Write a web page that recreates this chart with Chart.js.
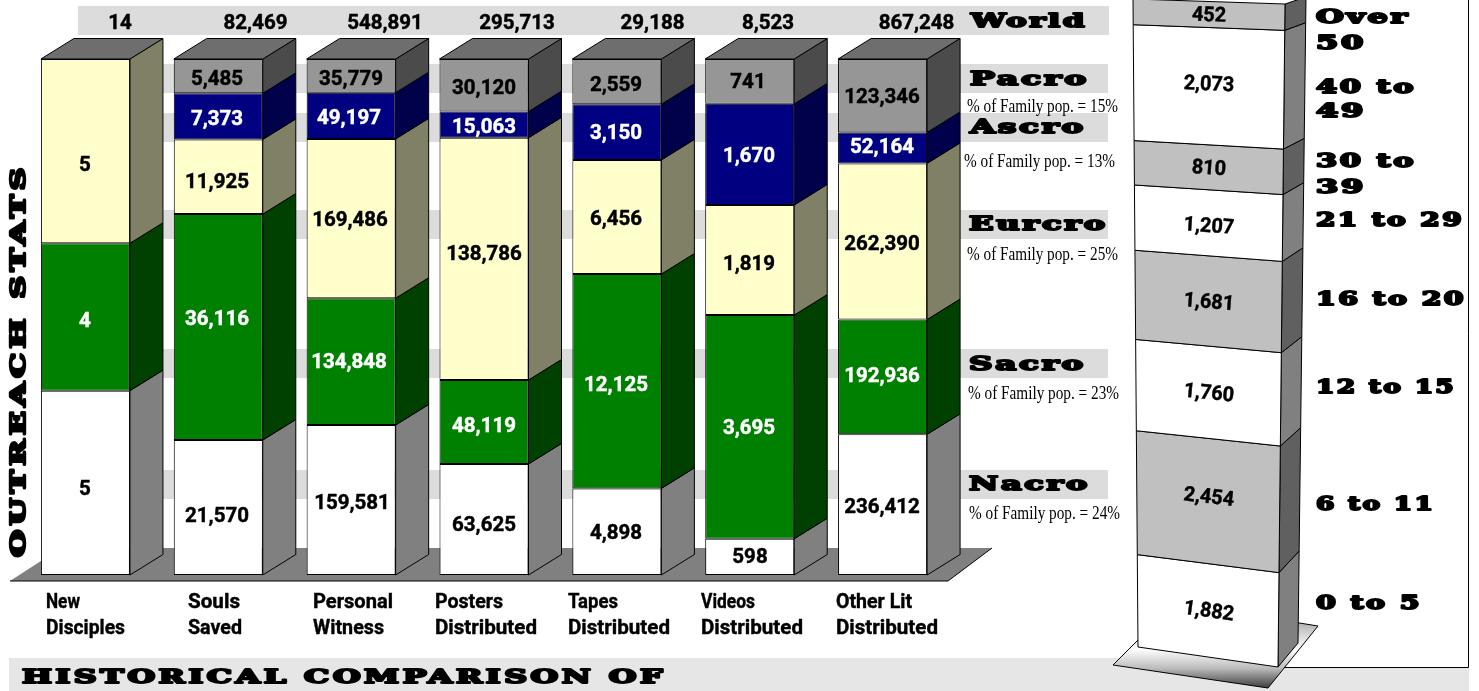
<!DOCTYPE html>
<html><head><meta charset="utf-8">
<script src="https://cdn.jsdelivr.net/npm/chart.js@4"></script>
<style>
html,body{margin:0;padding:0;background:#fff;overflow:hidden}
canvas{position:absolute;left:0;top:0}
</style></head><body>
<canvas id="main" width="1479" height="691"></canvas>
<canvas id="tower" width="1479" height="691"></canvas>
<script>
// ---------- data ----------
const categories = [["New","Disciples"],["Souls","Saved"],["Personal","Witness"],["Posters","Distributed"],["Tapes","Distributed"],["Videos","Distributed"],["Other Lit","Distributed"]];
const seriesNames = ["Nacro","Sacro","Eurcro","Ascro","Pacro"];
const nacro  = [5,21570,159581,63625,4898,598,236412];
const sacro  = [4,36116,134848,48119,12125,3695,192936];
const eurcro = [5,11925,169486,138786,6456,1819,262390];
const ascro  = [0,7373,49197,15063,3150,1670,52164];
const pacro  = [0,5485,35779,30120,2559,741,123346];
const worldTotals = [14,82469,548891,295713,29188,8523,867248];
const familyShare = ["15%","13%","25%","23%","24%"];
const ageGroups = ["0 to 5","6 to 11","12 to 15","16 to 20","21 to 29","30 to 39","40 to 49","Over 50"];
const ageValues = [1882,2454,1760,1681,1207,810,2073,452];

// ---------- style / layout ----------
const fmt = n => n.toLocaleString("en-US");
const seriesValues = [nacro,sacro,eurcro,ascro,pacro];
const frontColors = ["#ffffff","#008000","#ffffcc","#000080","#969696"];
const sideColors  = ["#808080","#004000","#808066","#00004b","#4b4b4b"];
const labelColors = ["#000","#fff","#000","#fff","#000"];
const numFont = 'bold 20.5px Roboto';
const slab = 'DejaVu Serif';
const TEXT_DY = 2;
const DEPTH_X = 33, DEPTH_Y = 20.5;
const worldLabelX = [120,255.5,385,517,652.5,768,916.5];
const catLabelX = [46,188,313,435,568,701,836];
const catLabelW = [[34,79],[52,54],[80,71],[68,102],[50,102],[54,102],[76,102]];
const barLabelPos = [ // per series, per column: label centre offsets
 [[85,488],[217,515],[352,502],[484,524],[616,532],[750,556],[882,506]],
 [[85,320],[217,318],[349,361],[484,425],[616,384],[749,427],[882,375]],
 [[85,164],[217,181],[350,219],[484,253],[616,218],[749,263],[882,243]],
 [null,[217,118],[349,117],[484,126],[616,132],[749,155],[882,146]],
 [null,[217,78],[351,78],[484,87],[616,84],[748,81],[882,96]]
];
const strips = [[6,29],[64,29],[113,29],[210,29],[349,29],[470,29]];
const headings = [["World",971,21,116],["Pacro",970,79,119],["Ascro",970,127,116],["Eurcro",969,224,139],["Sacro",969,364,117],["Nacro",969,484,121]];
const captionPos = [[967,105],[964,160],[967,253],[968,392],[969,512]];

function fitText(ctx,text,x,y,w,font,color,stroke,spacing){
  ctx.save();
  ctx.font=font; ctx.fillStyle=color||"#000"; ctx.textAlign="left"; ctx.textBaseline="middle";
  if(spacing) ctx.letterSpacing=spacing+"px";
  const m=ctx.measureText(text).width;
  ctx.translate(x,y+TEXT_DY); ctx.scale(w/m,1);
  ctx.fillText(text,0,0);
  if(stroke){ctx.strokeStyle=color||"#000";ctx.lineWidth=stroke;ctx.lineJoin="round";ctx.strokeText(text,0,0);}
  ctx.restore();
}
function centerText(ctx,text,x,y,font,color,sx){
  ctx.save();
  ctx.font=font; ctx.fillStyle=color||"#000"; ctx.textAlign="center"; ctx.textBaseline="middle";
  ctx.translate(x,y+TEXT_DY); ctx.scale(sx||1,1); ctx.fillText(text,0,0);
  ctx.strokeStyle=color||"#000"; ctx.lineWidth=.45; ctx.strokeText(text,0,0);
  ctx.restore();
}
function poly(ctx,pts,fill,stroke,lw){
  ctx.beginPath(); pts.forEach((p,i)=>i?ctx.lineTo(p[0],p[1]):ctx.moveTo(p[0],p[1])); ctx.closePath();
  if(fill){ctx.fillStyle=fill;ctx.fill();}
  if(stroke){ctx.strokeStyle=stroke;ctx.lineWidth=lw||1;ctx.stroke();}
}

const stage3d = {
  id:"stage3d",
  beforeDatasetsDraw(chart){
    const ctx=chart.ctx;
    ctx.save();
    // footer band + panel
    ctx.fillStyle="#e6e6e6"; ctx.fillRect(9,658,1460,33);
    ctx.fillStyle="#fff"; ctx.fillRect(1250,650,218,17);
    ctx.strokeStyle="#000"; ctx.lineWidth=1;
    ctx.beginPath(); ctx.moveTo(1468.5,0); ctx.lineTo(1468.5,667.5); ctx.lineTo(1250,667.5); ctx.stroke();
    // strips
    ctx.fillStyle="#dcdcdc";
    strips.forEach((s,i)=>ctx.fillRect(i?163:78,s[0],i?945:1031,s[1]));
    // floor
    poly(ctx,[[10,581],[61,548],[992,548],[948,581]],"#808080");
    ctx.beginPath(); ctx.moveTo(10,581); ctx.lineTo(948,581); ctx.lineTo(992,548); ctx.strokeStyle="#000"; ctx.stroke();
    // bar sides + tops
    seriesValues.forEach((vals,ds)=>{
      chart.getDatasetMeta(ds).data.forEach((el,i)=>{
        if(!vals[i]) return;
        const r=el.x+el.width/2;
        poly(ctx,[[r,el.y],[r+DEPTH_X,el.y-DEPTH_Y],[r+DEPTH_X,el.base-DEPTH_Y],[r,el.base]],sideColors[ds],"#000");
      });
    });
    chart.getDatasetMeta(0).data.forEach((el,i)=>{
      const ym=chart.scales.y.getPixelForValue(100), l=el.x-el.width/2, r=el.x+el.width/2;
      poly(ctx,[[l,ym],[l+DEPTH_X,ym-DEPTH_Y],[r+DEPTH_X,ym-DEPTH_Y],[r,ym]],"#6e6e6e","#000");
    });
    ctx.restore();
  },
  afterDatasetsDraw(chart){
    const ctx=chart.ctx;
    // value labels
    seriesValues.forEach((vals,ds)=>vals.forEach((v,i)=>{
      const p=barLabelPos[ds][i]; if(!p||!v) return;
      centerText(ctx,fmt(v),p[0],p[1],numFont,labelColors[ds]);
    }));
    worldTotals.forEach((v,i)=>centerText(ctx,fmt(v),worldLabelX[i],22,numFont,"#000"));
    // category labels
    categories.forEach((c,i)=>{
      fitText(ctx,c[0],catLabelX[i],601,catLabelW[i][0],'bold 20px Roboto',"#000",.4);
      fitText(ctx,c[1],catLabelX[i],627,catLabelW[i][1],'bold 20px Roboto',"#000",.4);
    });
    // headings and captions
    headings.forEach(h=>fitText(ctx,h[0],h[1],h[2]-1,h[3],'bold 18px "'+slab+'"',"#000",1.9,1.5));
    familyShare.forEach((s,i)=>fitText(ctx,"% of Family pop. = "+s,captionPos[i][0],captionPos[i][1],151,'19px "Liberation Serif"',"#000"));
    // rotated title
    ctx.save(); ctx.translate(17.5,557); ctx.rotate(-Math.PI/2);
    fitText(ctx,"OUTREACH STATS",0,0,394,'bold 20px "'+slab+'"',"#000",2.4,3);
    ctx.restore();
    fitText(ctx,"HISTORICAL COMPARISON OF",22,676.5,644,'bold 18px "'+slab+'"',"#000",2,2);
  }
};

new Chart(document.getElementById("main"),{
  type:"bar",
  data:{labels:categories,datasets:seriesNames.map((n,d)=>({
    label:n,
    data:seriesValues[d].map((v,i)=>v/worldTotals[i]*100),
    backgroundColor:frontColors[d],borderColor:"#000",borderWidth:1,borderSkipped:false,
    categoryPercentage:1,barPercentage:89/132.83
  }))},
  options:{responsive:false,animation:false,devicePixelRatio:1,
    layout:{padding:{left:19,right:530,top:59,bottom:116}},
    plugins:{legend:{display:false},tooltip:{enabled:false},title:{display:false}},
    scales:{x:{stacked:true,display:false},y:{stacked:true,display:false,min:0,max:100}}},
  plugins:[stage3d]
});

// ---------- age tower ----------
const towerColors = ["#ffffff","#c0c0c0"];
const towerSide = ["#808080","#606060"];
const FRONT = [[1138,647],[1278,667],[1285,4],[1133,-1]];
const FAR = [[1298,643],[1306,-3]];
function makeH(q){
  const [[x0,y0],[x1,y1],[x2,y2],[x3,y3]]=q;
  const dx1=x1-x2,dx2=x3-x2,sx=x0-x1+x2-x3,dy1=y1-y2,dy2=y3-y2,sy=y0-y1+y2-y3;
  const D=dx1*dy2-dx2*dy1, g=(sx*dy2-dx2*sy)/D, h=(dx1*sy-sx*dy1)/D;
  const a=x1-x0+g*x1,b=x3-x0+h*x3,d=y1-y0+g*y1,e=y3-y0+h*y3;
  return (u,v)=>{const w=g*u+h*v+1;return [(a*u+b*v+x0)/w,(d*u+e*v+y0)/w];};
}
const H=makeH(FRONT);
const ageLabelY=[610,496,392,301,225,167,83,14];
const ageRows=[[["0 to 5",106,603]],[["6 to 11",119,504]],[["12 to 15",140,387]],[["16 to 20",150,299]],[["21 to 29",148,220]],[["30 to",100,161],["39",50,187]],[["40 to",100,87],["49",50,111]],[["Over",94,17],["50",50,43]]];

const towerPlugin={
  id:"towerPlugin",
  beforeDatasetsDraw(chart){
    const ctx=chart.ctx;
    const g=ctx.createLinearGradient(0,622,0,690);
    g.addColorStop(0,"#b0b0b0"); g.addColorStop(.4,"#ffffff"); g.addColorStop(.68,"#bcbcbc"); g.addColorStop(1,"#303030");
    poly(ctx,[[1113,665],[1175,603],[1318,626],[1268,688]],g,"#000");
  },
  beforeDatasetDraw(){return false;},
  afterDatasetsDraw(chart){
    const ctx=chart.ctx, a=chart.chartArea, H0=a.bottom-a.top;
    ageValues.forEach((v,i)=>{
      const el=chart.getDatasetMeta(i).data[0];
      const t0=(a.bottom-el.base)/H0, t1=(a.bottom-el.y)/H0;
      const c=chart.data.datasets[i].backgroundColor;
      const bl=H(0,t0),br=H(1,t0),tr=H(1,t1),tl=H(0,t1);
      const sOf=p=>(p[1]-FRONT[1][1])/(FRONT[2][1]-FRONT[1][1]);
      const far=p=>{const s=sOf(p);return [FAR[0][0]+(FAR[1][0]-FAR[0][0])*s,FAR[0][1]+(FAR[1][1]-FAR[0][1])*s];};
      poly(ctx,[br,far(br),far(tr),tr],towerSide[i%2],"#000");
      poly(ctx,[bl,br,tr,tl],c,"#000");
      // slanted value label
      const mL=H(0,(t0+t1)/2), mR=H(1,(t0+t1)/2);
      const ang=Math.atan2(mR[1]-mL[1],mR[0]-mL[0]);
      ctx.save(); ctx.translate(1209,ageLabelY[i]); ctx.rotate(ang);
      centerText(ctx,fmt(v),0,0,numFont,"#000",.97);
      ctx.restore();
      ageRows[i].forEach(r=>fitText(ctx,r[0],1316,r[2]-1,r[1],'bold 18px "'+slab+'"',"#000",1.9,1.5));
    });
  }
};
new Chart(document.getElementById("tower"),{
  type:"bar",
  data:{labels:["Age"],datasets:ageGroups.map((n,i)=>({
    label:n,data:[ageValues[i]],backgroundColor:towerColors[i%2],borderColor:"#000",borderWidth:1,
    categoryPercentage:1,barPercentage:1
  }))},
  options:{responsive:false,animation:false,devicePixelRatio:1,
    layout:{padding:{left:1133,right:194,top:0,bottom:44}},
    plugins:{legend:{display:false},tooltip:{enabled:false}},
    scales:{x:{stacked:true,display:false},y:{stacked:true,display:false,min:0,max:ageValues.reduce((s,v)=>s+v,0)}}},
  plugins:[towerPlugin]
});
</script>
</body></html>
